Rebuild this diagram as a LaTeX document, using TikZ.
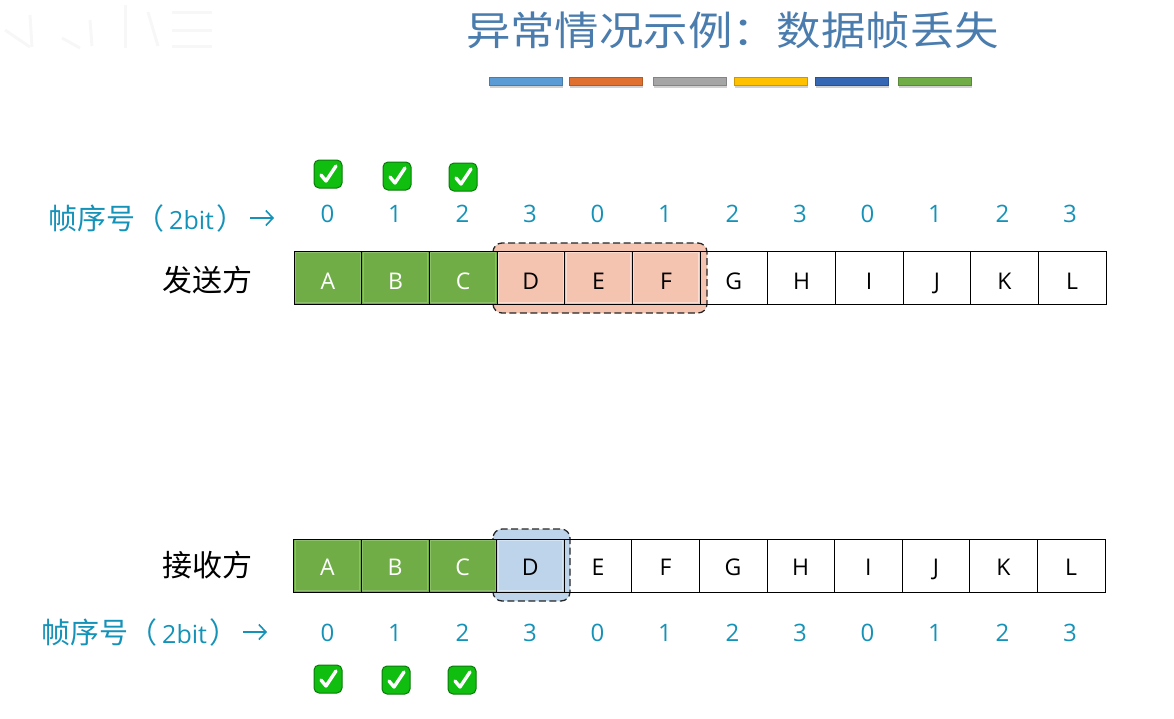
\documentclass[tikz,border=0pt]{standalone}
\usepackage{fontspec}
\setmainfont{Open Sans}
\newfontfamily\cjk{Noto Sans CJK SC}
\definecolor{teal1}{HTML}{1592B8}
\definecolor{grn}{HTML}{70AD47}
\definecolor{grnlt}{HTML}{8DBF6C}
\definecolor{sal}{HTML}{F4C4B0}
\definecolor{sallt}{HTML}{FADDD0}
\definecolor{blu}{HTML}{BDD4EA}
\definecolor{blult}{HTML}{D5E4F3}
\definecolor{ttl}{HTML}{4A7DAE}
\definecolor{tickg}{HTML}{10BE10}
\definecolor{tickd}{HTML}{0A7A0A}
\definecolor{wash}{HTML}{F7F7F7}
\usetikzlibrary{arrows.meta}
\tikzset{
 cell/.style={draw=black,line width=0.8pt,minimum width=67.6pt,minimum height=53pt,inner sep=0pt,outer sep=0pt,font=\fontsize{23}{23}\selectfont},
 done/.style={cell,fill=grn,text=white},
 seq/.style={text=teal1,inner sep=0pt,font=\fontsize{24}{24}\selectfont},
 lab/.style={inner sep=0pt,font=\cjk\fontsize{30}{30}\selectfont},
 seqlab/.style={inner sep=0pt,text=teal1,font=\fontsize{25}{25}\selectfont},
 tick/.style={draw=tickd,line width=1pt,fill=tickg,rounded corners=5pt,minimum size=28pt,inner sep=0pt},
 win/.style={rounded corners=9pt,line width=1.3pt,dash pattern=on 7pt off 3.5pt},
 seqarrow/.style={-{Straight Barb[length=7pt,width=15pt]},line width=1.6pt,teal1},
 inset/.style={line width=1pt},
}
\newcommand{\seqtext}{{\cjk\fontsize{29}{29}\selectfont 帧序号（}\hspace{5pt}2bit\hspace{3pt}{\cjk\fontsize{29}{29}\selectfont ）}}
\newcommand{\tickat}[2]{%
 \node[tick] (#1) at #2 {};
 \draw[white,line width=3.4pt,line cap=round,line join=round] ([shift={(-7,1)}]#1.center) -- ([shift={(-2,7)}]#1.center) -- ([shift={(8,-8)}]#1.center);
}
\newcommand{\insetbox}[2]{\draw[inset,#2] ([shift={(1.5,1.5)}]#1.north west) rectangle ([shift={(-1.5,-1.5)}]#1.south east);}
\newcommand{\toptext}[1]{\raisebox{-11.7pt}[0pt][0pt]{#1}}
\newcommand{\bottext}[1]{\raisebox{-9.7pt}[0pt][0pt]{#1}}
\begin{document}
\begin{tikzpicture}[x=1pt,y=-1pt]
\useasboundingbox (0,0) rectangle (1174,718);
% faint watermark strokes
\foreach \xa/\ya/\xb/\yb in {5/30/30/47,30/15/32/47,62/38/80/48,90/20/92/46,125/5/125/48,148/12/158/46,172/12/212/12,172/30/212/30,172/46/212/46}{
 \draw[wash,line width=3pt] (\xa,\ya) -- (\xb,\yb);
}
% title
\node[inner sep=0pt,text=ttl,font=\cjk\fontsize{40}{40}\selectfont,xscale=1.11] (title) at (732.5,30) {异常情况示例：数据帧丢失};
% colour bars
\foreach \n/\x/\c in {b1/526/5B9BD5,b2/606/E0702F,b3/690/A5A5A5,b4/771/FFC000,b5/852/3567B5,b6/935/70AD47}{
 \definecolor{tmpc}{HTML}{\c}
 \fill[black!18] (\x-36.5,82) rectangle (\x+36.5,88);
 \node[minimum width=73pt,minimum height=8pt,inner sep=0pt,draw=tmpc!80!black,fill=tmpc] (\n) at (\x,81) {};
}
% sender window (behind the cells)
\path[win,draw=black!85,fill=sal] (493,243) rectangle (707,313);
% sender cells
\foreach \l [count=\i from 0] in {A,B,C,D,E,F,G,H,I,J,K,L}{
 \pgfmathsetmacro{\cx}{327.8+67.67*\i}
 \ifnum\i<3
  \node[done] (s\l) at (\cx,277.5) {\toptext{\l}};
  \insetbox{s\l}{grnlt}
 \else\ifnum\i<6
  \node[cell,fill=sal] (s\l) at (\cx,277.5) {\toptext{\l}};
  \insetbox{s\l}{sallt}
 \else
  \node[cell] (s\l) at (\cx,277.5) {\toptext{\l}};
 \fi\fi
}
% receiver window (behind the cells)
\path[win,draw=black!85,fill=blu] (493,529) rectangle (570,601);
\foreach \l [count=\i from 0] in {A,B,C,D,E,F,G,H,I,J,K,L}{
 \pgfmathsetmacro{\cx}{327.5+67.6*\i}
 \ifnum\i<3
  \node[done] (r\l) at (\cx,565.5) {\bottext{\l}};
  \insetbox{r\l}{grnlt}
 \else\ifnum\i=3
  \node[cell,fill=blu] (r\l) at (\cx,565.5) {\bottext{\l}};
  \insetbox{r\l}{blult}
 \else
  \node[cell] (r\l) at (\cx,565.5) {\bottext{\l}};
 \fi\fi
}
% sequence numbers
\foreach \n [count=\i from 0] in {0,1,2,3,0,1,2,3,0,1,2,3}{
 \pgfmathsetmacro{\cx}{327.5+67.5*\i}
 \node[seq] (ts\i) at (\cx,214) {\n};
 \node[seq] (bs\i) at (\cx,633) {\n};
}
% labels
\node[lab] (send) at (207,280) {发送方};
\node[lab] (recv) at (207,565) {接收方};
\node[seqlab,anchor=west] (tl) at (48,218) {\seqtext};
\coordinate (ta1) at (250,218); \coordinate (ta2) at (274,218);
\draw[seqarrow] (ta1) -- (ta2);
\node[seqlab,anchor=west] (bl) at (41,632) {\seqtext};
\coordinate (ba1) at (243,632); \coordinate (ba2) at (267,632);
\draw[seqarrow] (ba1) -- (ba2);
% ticks
\tickat{t1}{(328,174)}
\tickat{t2}{(397,176)}
\tickat{t3}{(463,177)}
\tickat{u1}{(328,679)}
\tickat{u2}{(396,680)}
\tickat{u3}{(462,680)}
\end{tikzpicture}
\end{document}
